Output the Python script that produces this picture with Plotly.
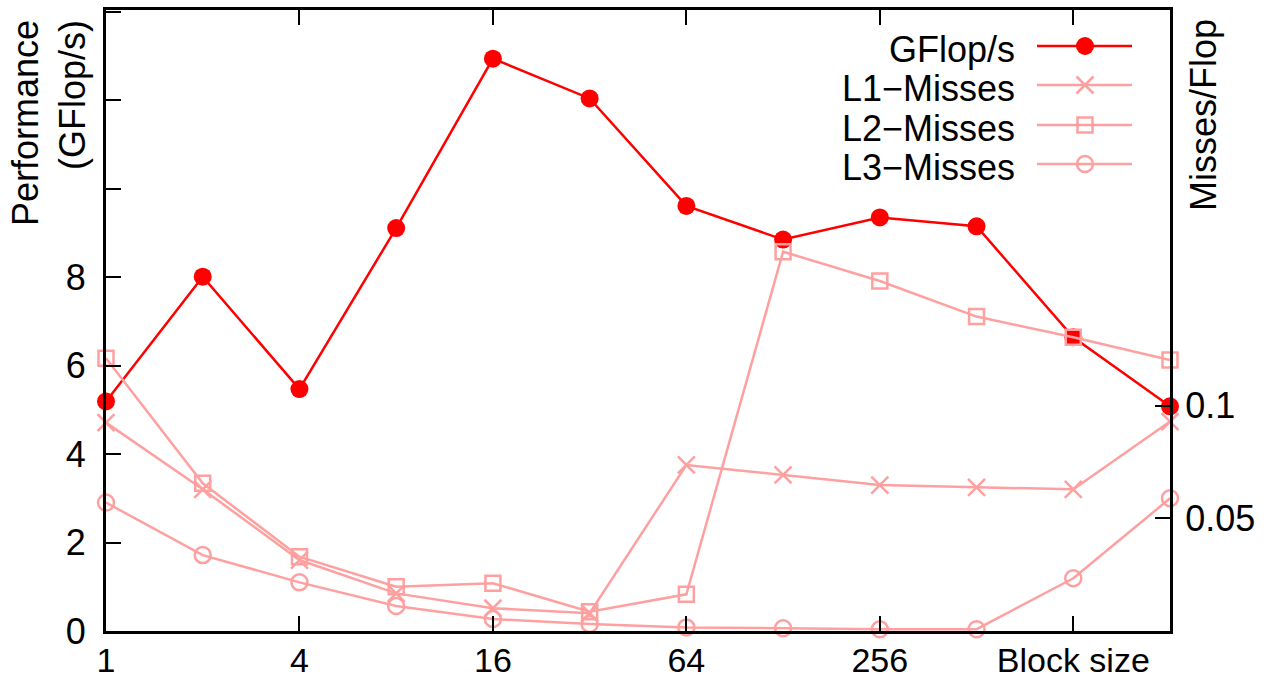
import math
import plotly.graph_objects as go

# Block sizes (powers of two) and measured values
block_sizes = [1, 2, 4, 8, 16, 32, 64, 128, 256, 512, 1024, 2048]
gflops = [5.19, 8.01, 5.47, 9.11, 12.94, 12.04, 9.61, 8.85, 9.35, 9.15, 6.64, 5.08]
l1_misses = [0.0925, 0.0629, 0.0315, 0.0167, 0.0101, 0.0079, 0.0737, 0.0693, 0.0648, 0.0638, 0.0629, 0.0930]
l2_misses = [0.1211, 0.0656, 0.0330, 0.0197, 0.0212, 0.0086, 0.0163, 0.1684, 0.1554, 0.1396, 0.1304, 0.1203]
l3_misses = [0.0570, 0.0337, 0.0216, 0.0111, 0.0053, 0.0031, 0.0016, 0.0012, 0.0008, 0.0008, 0.0234, 0.0589]

x_tickvals = [1, 4, 16, 64, 256, 1024]
x_ticktext = ["1", "4", "16", "64", "256", "Block size"]
y_tickvals = [0, 2, 4, 6, 8, 10, 12, 14]
y_ticktext = ["0", "2", "4", "6", "8", "", "", ""]
y2_tickvals = [0.05, 0.1]
y2_ticktext = ["0.05", "0.1"]

legend_names = ["GFlop/s", "L1\u2212Misses", "L2\u2212Misses", "L3\u2212Misses"]

RED = "#ff0000"
PINK = "#ffa0a0"
FONT = "Liberation Sans, Arial, sans-serif"
FS = 36

W, H = 1277, 682
L, R, T, B = 106, 1170, 10, 631

fig = go.Figure()

fig.add_trace(go.Scatter(
    x=block_sizes, y=gflops, mode="lines+markers", yaxis="y", cliponaxis=False,
    line=dict(color=RED, width=2.5),
    marker=dict(symbol="circle", size=18, color=RED),
    showlegend=False))

miss_styles = [
    (l1_misses, dict(symbol="x-thin-open", size=17, color=PINK, line=dict(color=PINK, width=2.5))),
    (l2_misses, dict(symbol="square-open", size=15, color=PINK, line=dict(color=PINK, width=2.5))),
    (l3_misses, dict(symbol="circle-open", size=16, color=PINK, line=dict(color=PINK, width=2.5))),
]
for vals, mk in miss_styles:
    fig.add_trace(go.Scatter(
        x=block_sizes, y=vals, mode="lines+markers", yaxis="y2", cliponaxis=False,
        line=dict(color=PINK, width=2.5), marker=mk, showlegend=False))

# Key: text on the left, line sample with marker on the right
key_rows = [46, 85, 125, 164]
key_line = (1037, 1132)
key_mark_x = 1085
key_markers = [
    dict(symbol="circle", size=18, color=RED),
    miss_styles[0][1], miss_styles[1][1], miss_styles[2][1],
]
key_colors = [RED, PINK, PINK, PINK]
for row_y, mk, col, name in zip(key_rows, key_markers, key_colors, legend_names):
    fig.add_trace(go.Scatter(
        x=[key_line[0], key_line[1]], y=[row_y, row_y], mode="lines",
        xaxis="x3", yaxis="y3", line=dict(color=col, width=2.5),
        showlegend=False, hoverinfo="skip"))
    fig.add_trace(go.Scatter(
        x=[key_mark_x], y=[row_y], mode="markers", xaxis="x3", yaxis="y3",
        marker=mk, showlegend=False, hoverinfo="skip"))
    fig.add_annotation(
        xref="x3", yref="y3", x=1017, y=row_y + 3, text=name, showarrow=False,
        xanchor="right", yanchor="middle", font=dict(family=FONT, size=FS, color="black"))

axis_common = dict(
    showgrid=False, zeroline=False, showline=True, linecolor="black", linewidth=3,
    ticks="inside", ticklen=15, tickwidth=2, tickcolor="black", automargin=False,
)

fig.update_layout(
    width=W, height=H,
    margin=dict(l=L, r=W - R, t=T, b=H - B, autoexpand=False),
    paper_bgcolor="white", plot_bgcolor="white",
    xaxis=dict(type="log", range=[0, math.log10(2048)], tickvals=x_tickvals,
               ticktext=x_ticktext, mirror="ticks", ticklabelstandoff=-3,
               tickfont=dict(family=FONT, size=34, color="black"), **axis_common),
    yaxis=dict(range=[0, 14.04], tickvals=y_tickvals, ticktext=y_ticktext,
               ticklabelstandoff=10,
               tickfont=dict(family=FONT, size=FS, color="black"), **axis_common),
    yaxis2=dict(overlaying="y", side="right", range=[0, 0.2757], tickvals=y2_tickvals,
                ticktext=y2_ticktext, ticklabelstandoff=5,
                tickfont=dict(family=FONT, size=FS, color="black"), **axis_common),
    xaxis3=dict(overlaying="x", range=[L, R], visible=False),
    yaxis3=dict(overlaying="y", range=[B, T], visible=False),
)

# Axis titles
fig.add_annotation(
    xref="paper", yref="paper", x=(49 - L) / (R - L), y=(B - 18) / (B - T),
    text="Performance<br>(GFlop/s)", textangle=-90, showarrow=False,
    xanchor="center", yanchor="top", align="right",
    font=dict(family=FONT, size=FS, color="black"))
fig.add_annotation(
    xref="paper", yref="paper", x=(1203 - L) / (R - L), y=(B - 17) / (B - T),
    text="Misses/Flop", textangle=-90, showarrow=False,
    xanchor="center", yanchor="top",
    font=dict(family=FONT, size=FS, color="black"))

fig.write_html("out.html")
